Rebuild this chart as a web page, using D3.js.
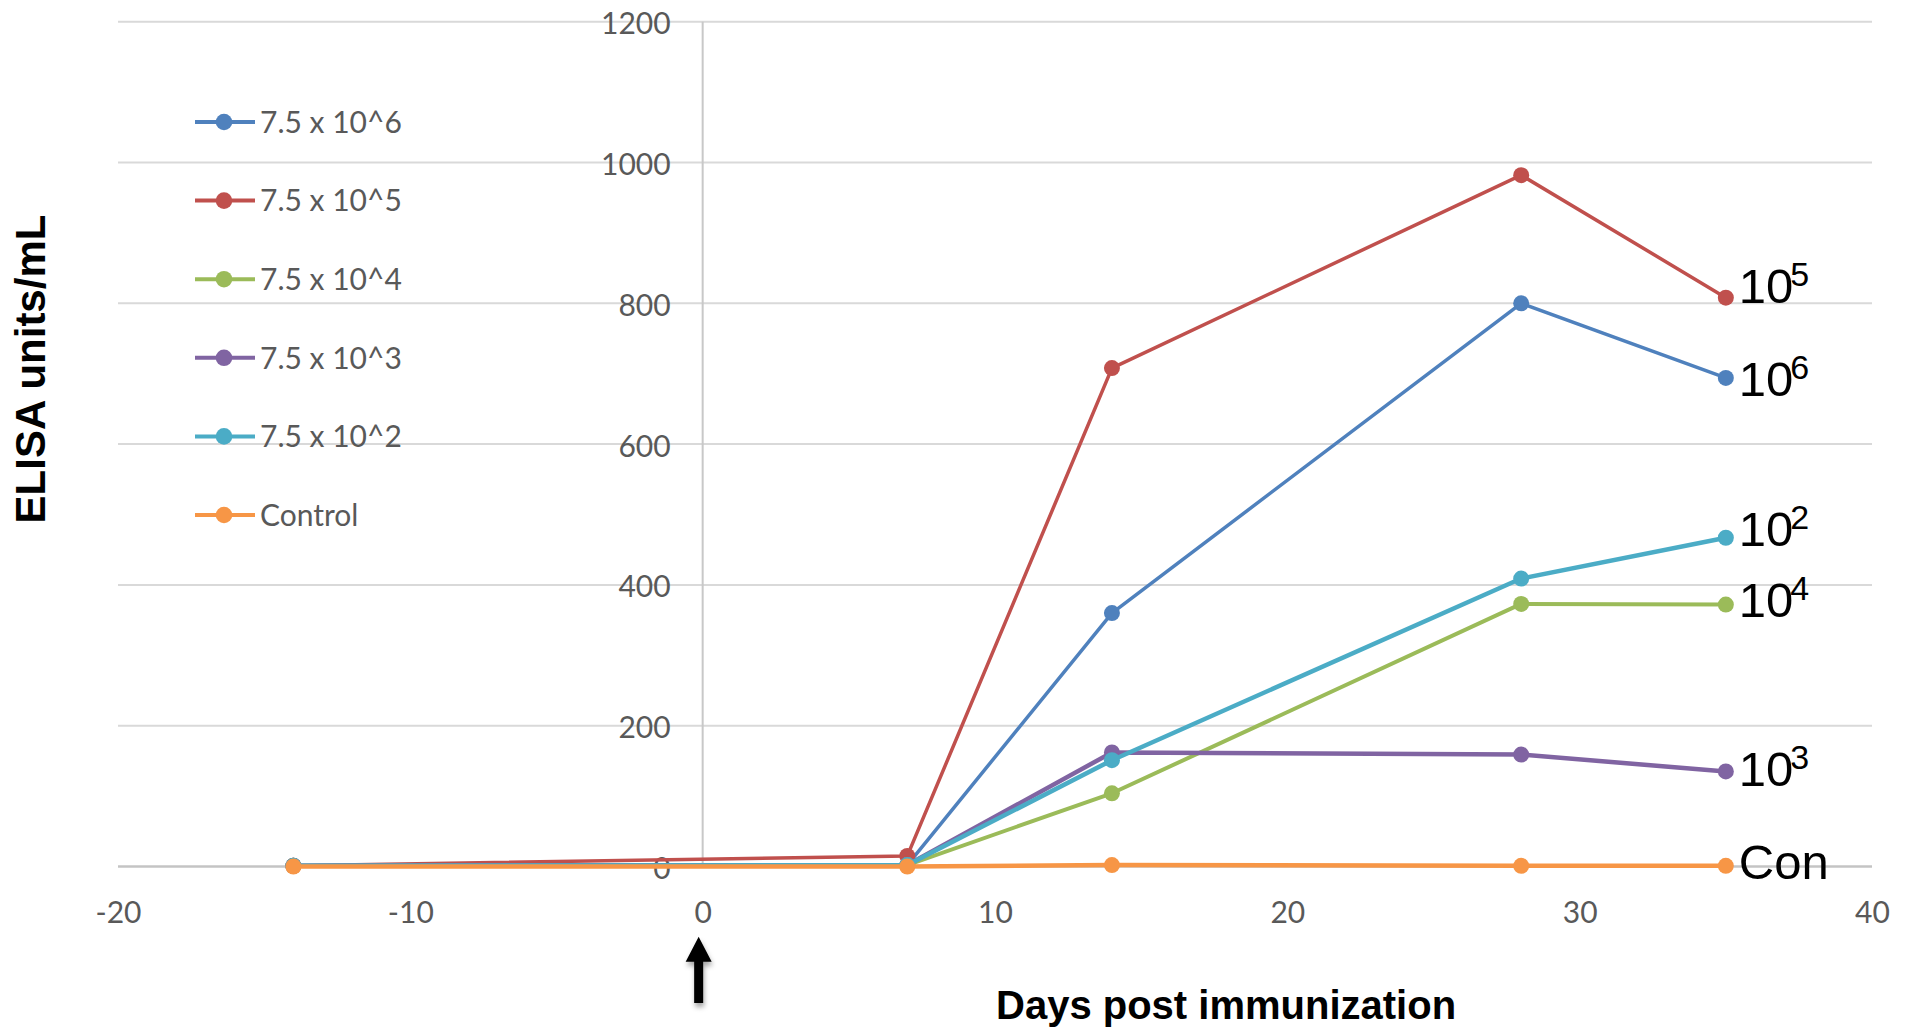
<!DOCTYPE html>
<html>
<head>
<meta charset="utf-8">
<script src="https://cdn.jsdelivr.net/npm/d3@7"></script>
<style>
  html, body { margin: 0; padding: 0; background: #ffffff; }
  svg { display: block; }
</style>
</head>
<body>
<svg id="chart" width="1908" height="1031"></svg>
<script>
// Sampling days relative to immunization
const days = [-14, 7, 14, 28, 35];

// ELISA units/mL per dose group
const dose6   = [1, 2, 360, 800, 694];
const dose5   = [1, 15, 708, 982, 808];
const dose4   = [1, 2, 104, 373, 372];
const dose3   = [1, 2, 162, 159, 135];
const dose2   = [1, 2, 151, 409, 467];
const control = [0, 0, 2, 1, 1];

const seriesNames  = ["7.5 x 10^6", "7.5 x 10^5", "7.5 x 10^4", "7.5 x 10^3", "7.5 x 10^2", "Control"];
const seriesValues = [dose6, dose5, dose4, dose3, dose2, control];
const seriesColors = ["#4F81BD", "#C0504D", "#9BBB59", "#8064A2", "#4BACC6", "#F79646"];
const seriesWidths = [3.5, 3.5, 4, 4.5, 4.5, 4.5];

// End-of-line labels: base text and superscript
const endBase = ["10", "10", "10", "10", "10", "Con"];
const endSup  = ["6", "5", "4", "3", "2", ""];
// vertical nudge of each end label from its last point (px)
const endNudge = [18, 5, 12, 15, 8, 13];

const xTicks = [-20, -10, 0, 10, 20, 30, 40];
const yTicks = [0, 200, 400, 600, 800, 1000, 1200];

const svg = d3.select("#chart");
const tickFont = "Lato, 'Open Sans', sans-serif";
const tickColor = "#595959";

const x = d3.scaleLinear().domain([-20, 40]).range([118, 1872]);
const y = d3.scaleLinear().domain([0, 1200]).range([866.5, 21.7]);

// drop shadow for the immunization arrow
const defs = svg.append("defs");
const f = defs.append("filter").attr("id", "arrowShadow")
  .attr("x", "-50%").attr("y", "-50%").attr("width", "200%").attr("height", "200%");
f.append("feDropShadow").attr("dx", 1).attr("dy", 4)
  .attr("stdDeviation", 2.5).attr("flood-color", "#000").attr("flood-opacity", 0.35);

// horizontal gridlines
svg.append("g").selectAll("line")
  .data(yTicks.filter(d => d !== 0))
  .join("line")
  .attr("x1", x.range()[0]).attr("x2", x.range()[1])
  .attr("y1", d => y(d)).attr("y2", d => y(d))
  .attr("stroke", "#D9D9D9").attr("stroke-width", 2);

// horizontal axis line at zero
svg.append("line")
  .attr("x1", x.range()[0]).attr("x2", x.range()[1])
  .attr("y1", y(0)).attr("y2", y(0))
  .attr("stroke", "#C4C4C4").attr("stroke-width", 2.5);

// vertical axis line at day 0
svg.append("line")
  .attr("x1", x(0)).attr("x2", x(0))
  .attr("y1", y(1200)).attr("y2", y(0) - 3)
  .attr("stroke", "#C8C8C8").attr("stroke-width", 2);

// y tick labels
const yAxis = d3.axisLeft(y).tickValues(yTicks).tickSize(0).tickPadding(32)
  .tickFormat(d => String(d));
const gy = svg.append("g").attr("transform", `translate(${x(0)},0)`).call(yAxis);
gy.select(".domain").remove();
gy.selectAll("text")
  .attr("font-family", tickFont).attr("font-size", 30)
  .attr("fill", tickColor).attr("dy", "0.4em");

// x tick labels
const xAxis = d3.axisBottom(x).tickValues(xTicks).tickSize(0)
  .tickFormat(d => String(d));
const gx = svg.append("g").attr("transform", `translate(0,${y(0)})`).call(xAxis);
gx.select(".domain").remove();
gx.selectAll("text")
  .attr("font-family", tickFont).attr("font-size", 30)
  .attr("fill", tickColor).attr("y", 56.5).attr("dy", 0);

// series lines and markers
const line = d3.line().x((d, i) => x(days[i])).y(d => y(d));
seriesValues.forEach((vals, s) => {
  const g = svg.append("g");
  g.append("path")
    .attr("d", line(vals))
    .attr("fill", "none")
    .attr("stroke", seriesColors[s])
    .attr("stroke-width", seriesWidths[s])
    .attr("stroke-linejoin", "round");
  g.selectAll("circle")
    .data(vals)
    .join("circle")
    .attr("cx", (d, i) => x(days[i]))
    .attr("cy", d => y(d))
    .attr("r", 8)
    .attr("fill", seriesColors[s]);
});

// labels at line ends
seriesValues.forEach((vals, s) => {
  const last = vals[vals.length - 1];
  const t = svg.append("text")
    .attr("x", x(days[days.length - 1]) + 13)
    .attr("y", y(last) + endNudge[s])
    .attr("font-family", "'Liberation Sans', Arial, sans-serif")
    .attr("font-size", 49)
    .attr("fill", "#000")
    .text(endBase[s]);
  if (endSup[s]) {
    t.append("tspan")
      .attr("font-size", 34)
      .attr("dx", -3)
      .attr("dy", -17)
      .text(endSup[s]);
  }
});

// legend
const legend = svg.append("g");
seriesNames.forEach((name, i) => {
  const ly = 122 + i * 78.6;
  legend.append("line")
    .attr("x1", 195).attr("x2", 255).attr("y1", ly).attr("y2", ly)
    .attr("stroke", seriesColors[i]).attr("stroke-width", 4);
  legend.append("circle")
    .attr("cx", 224).attr("cy", ly).attr("r", 8.3)
    .attr("fill", seriesColors[i]);
  legend.append("text")
    .attr("x", 260).attr("y", ly).attr("dy", "0.36em")
    .attr("font-family", tickFont).attr("font-size", 30)
    .attr("fill", tickColor)
    .text(name);
});

// axis titles
svg.append("text")
  .attr("transform", "translate(45,369) rotate(-90)")
  .attr("text-anchor", "middle")
  .attr("font-family", "'Liberation Sans', Arial, sans-serif")
  .attr("font-weight", "bold").attr("font-size", 42)
  .attr("fill", "#000")
  .text("ELISA units/mL");

svg.append("text")
  .attr("x", 996).attr("y", 1019)
  .attr("font-family", "'Liberation Sans', Arial, sans-serif")
  .attr("font-weight", "bold").attr("font-size", 40)
  .attr("fill", "#000")
  .text("Days post immunization");

// arrow marking the day of immunization
const ax = x(0) - 4;
svg.append("path")
  .attr("d", `M${ax},936.7 L${ax + 13},961.7 L${ax + 4.5},961.7 L${ax + 4.5},1003 `
           + `L${ax - 4.5},1003 L${ax - 4.5},961.7 L${ax - 13},961.7 Z`)
  .attr("fill", "#000")
  .attr("filter", "url(#arrowShadow)");
</script>
</body>
</html>
